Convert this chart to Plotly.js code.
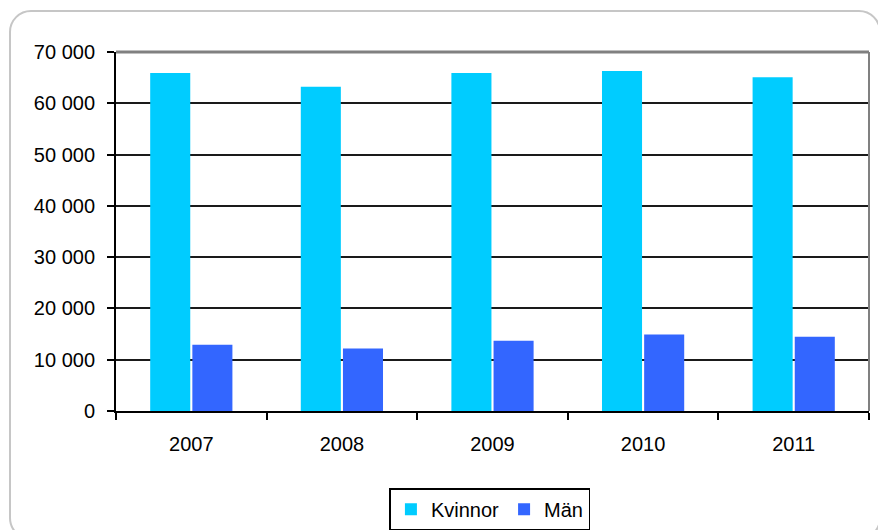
<!DOCTYPE html>
<html>
<head>
<meta charset="utf-8">
<script src="https://cdn.plot.ly/plotly-3.0.1.min.js"></script>
<style>
html,body{margin:0;padding:0;background:#fff;overflow:hidden;}
#wrap{position:relative;width:878px;height:530px;}
#frame{position:absolute;left:9px;top:10px;width:872px;height:530px;border:2px solid #c6c6c6;border-radius:22px;box-sizing:border-box;pointer-events:none;z-index:0;}
#chart{position:absolute;left:0;top:0;width:878px;height:530px;z-index:1;}
</style>
</head>
<body>
<div id="wrap">
<div id="frame"></div>
<div id="chart"></div>
</div>
<script>
const years = ['2007', '2008', '2009', '2010', '2011'];
const kvinnor = [65900, 63200, 65900, 66300, 65100];
const man = [12900, 12200, 13700, 14900, 14500];
const seriesNames = ['Kvinnor', 'Män'];

const font = {family: 'Liberation Sans, Arial, sans-serif', size: 20, color: '#000'};

const traces = [
  {type: 'bar', name: seriesNames[0], x: years, y: kvinnor, marker: {color: '#00CCFF', line: {width: 0}}, hoverinfo: 'y'},
  {type: 'bar', name: seriesNames[1], x: years, y: man, marker: {color: '#3366FF', line: {width: 0}}, hoverinfo: 'y'}
];

const layout = {
  width: 878, height: 530,
  margin: {l: 116, r: 9, t: 52, b: 119, pad: 0},
  paper_bgcolor: 'rgba(0,0,0,0)',
  plot_bgcolor: 'rgba(0,0,0,0)',
  font: font,
  separators: ', ',
  barmode: 'group',
  bargap: 0.44,
  bargroupgap: 0.05,
  showlegend: true,
  legend: {
    orientation: 'h',
    xref: 'container', yref: 'container',
    x: 0.558, xanchor: 'center',
    y: 0.039, yanchor: 'middle',
    bordercolor: '#000', borderwidth: 1.5,
    bgcolor: '#fff',
    font: font,
    itemwidth: 30,
    traceorder: 'normal'
  },
  xaxis: {
    type: 'category',
    showline: true, linecolor: '#000', linewidth: 2,
    ticks: 'outside', tickson: 'boundaries', ticklen: 7, tickwidth: 2, tickcolor: '#000',
    showgrid: false, zeroline: false,
    ticklabelstandoff: 14,
    tickfont: font,
    fixedrange: true
  },
  yaxis: {
    range: [0, 70000], dtick: 10000, tick0: 0,
    tickformat: ',.0f',
    showline: true, linecolor: '#000', linewidth: 2,
    ticks: 'outside', ticklen: 7, tickwidth: 2, tickcolor: '#000',
    showgrid: true, gridcolor: '#1a1a1a', gridwidth: 2,
    zeroline: false,
    ticklabelstandoff: 8,
    tickfont: font,
    fixedrange: true
  },
  shapes: [
    {type: 'line', xref: 'paper', yref: 'paper', x0: 0, x1: 1, y0: 1, y1: 1, line: {color: '#808080', width: 3}, layer: 'above'},
    {type: 'line', xref: 'paper', yref: 'paper', x0: 1, x1: 1, y0: 0, y1: 1, line: {color: '#808080', width: 2}, layer: 'above'}
  ]
};

Plotly.newPlot('chart', traces, layout, {displayModeBar: false, staticPlot: true});
</script>
</body>
</html>
